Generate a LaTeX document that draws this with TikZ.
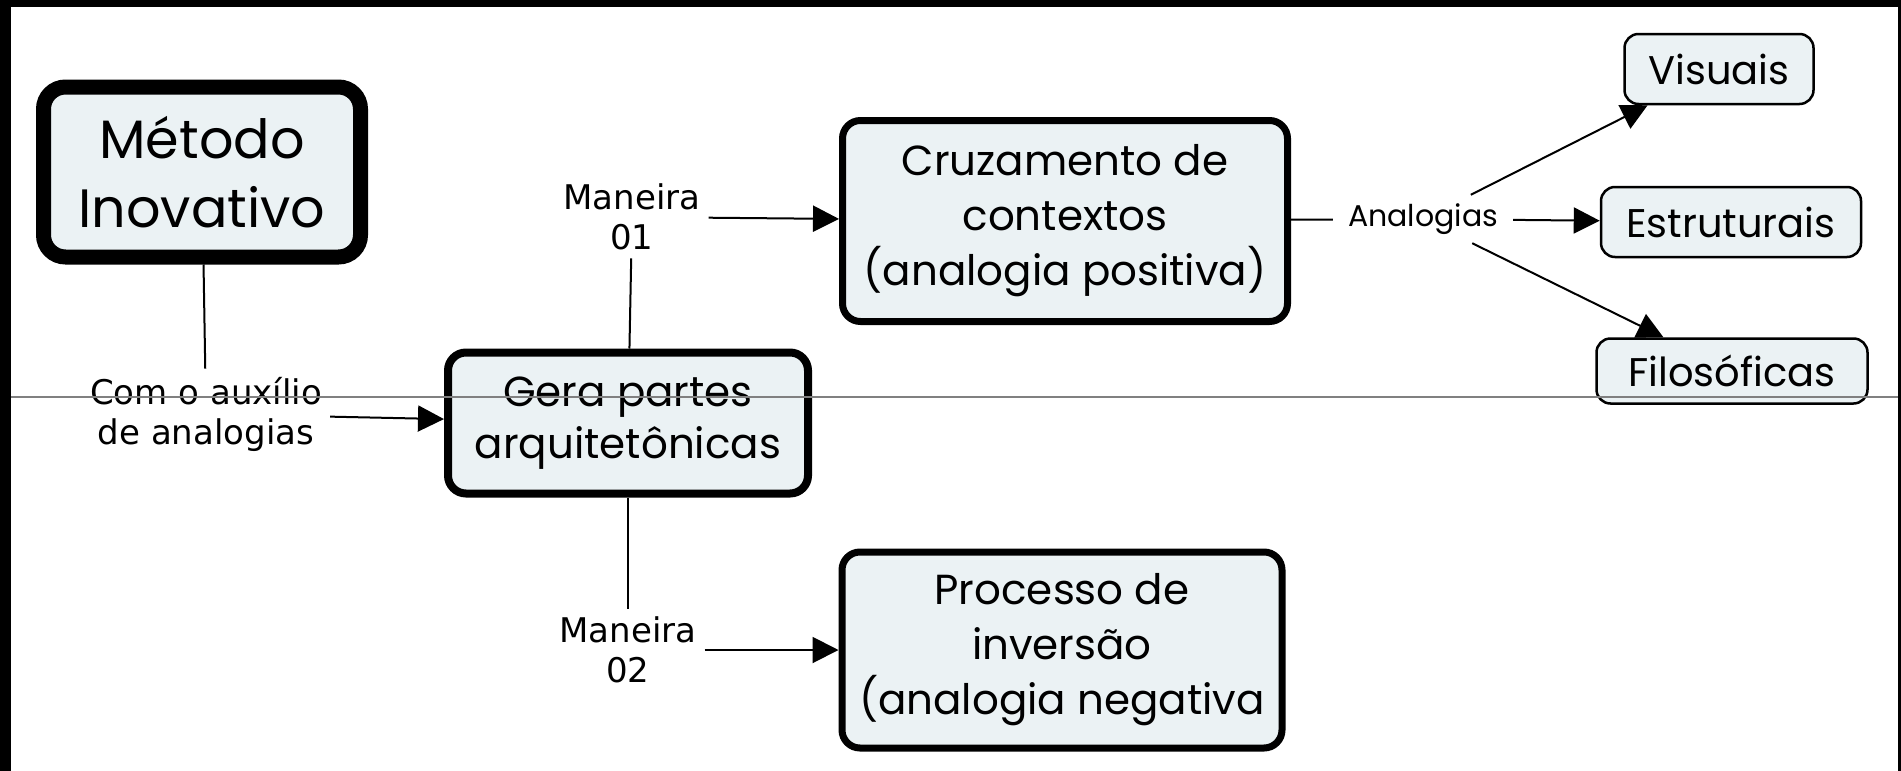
\documentclass[tikz,border=0pt]{standalone}
\usepackage{fontspec}
\setmainfont{DejaVu Sans}
\newfontfamily\boxfont{Poppins}
\usetikzlibrary{arrows.meta}
\definecolor{boxfill}{RGB}{235,242,244}

\begin{document}
\begin{tikzpicture}[x=1pt,y=-1pt,
  concept/.style={draw, fill=boxfill, rounded corners=18pt, align=center,
    inner sep=0pt, font=\boxfont\fontsize{42}{55}\selectfont},
  leaf/.style={draw, fill=boxfill, rounded corners=14pt, line width=2.5pt,
    align=center, inner sep=0pt, font=\boxfont\fontsize{40}{48}\selectfont},
  phrase/.style={align=center, inner sep=8pt, font=\fontsize{34}{40}\selectfont},
  link/.style={line width=2pt},
  arrow/.style={line width=2pt, -{Triangle[length=26pt,width=26pt]}}]
  \useasboundingbox (0,0) rectangle (1901,771);

  % Frame
  \fill[white] (0,0) rectangle (1901,771);
  \fill[black] (0,0) rectangle (1901,7);
  \fill[black] (0,0) rectangle (11,771);
  \fill[black] (1898,0) rectangle (1901,771);

  % Boxes
  \node[concept, line width=15pt, rounded corners=22pt, minimum width=317pt,
    minimum height=170pt, font=\boxfont\fontsize{54}{69}\selectfont]
    (metodo) at (202,172) {Método\\Inovativo};
  \node[concept, line width=8pt, minimum width=360pt, minimum height=141pt,
    font=\boxfont\fontsize{42}{52}\selectfont]
    (gera) at (628,423) {Gera partes\\arquitetônicas};
  \node[concept, line width=7pt, minimum width=445pt, minimum height=201pt]
    (cruz) at (1065,221) {Cruzamento de\\contextos\\(analogia positiva)};
  \node[concept, line width=7pt, minimum width=440pt, minimum height=196pt]
    (proc) at (1062,650) {Processo de\\inversão\\(analogia negativa};
  \node[leaf, minimum width=189pt, minimum height=70pt] (visuais) at (1719,69) {Visuais};
  \node[leaf, minimum width=260pt, minimum height=70pt] (estr) at (1731,222) {Estruturais};
  \node[leaf, minimum width=271pt, minimum height=65pt] (filo) at (1732,371) {Filosóficas};

  % Linking phrases
  \node[phrase] (aux) at (206,414) {Com o auxílio\\de analogias};
  \node[phrase] (man1) at (632,217) {Maneira\\01};
  \node[phrase] (man2) at (628,650) {Maneira\\02};
  \node[inner sep=0pt, minimum width=180pt, minimum height=48pt,
    font=\boxfont\fontsize{30}{36}\selectfont] (analog) at (1423,219) {Analogias};

  % Links
  \draw[link] (metodo) -- (aux);
  \draw[arrow] (aux) -- (gera);
  \draw[link] (gera) -- (man1);
  \draw[arrow] (man1) -- (cruz);
  \draw[link] (gera) -- (man2);
  \draw[arrow] (man2) -- (proc);
  \draw[link] (cruz) -- (analog);
  \draw[arrow] (analog) -- (visuais);
  \draw[arrow] (analog) -- (estr);
  \draw[arrow] (analog) -- (filo);

  % Stray rule
  \draw[gray, line width=1.2pt] (11,397) -- (1898,397);
\end{tikzpicture}
\end{document}
